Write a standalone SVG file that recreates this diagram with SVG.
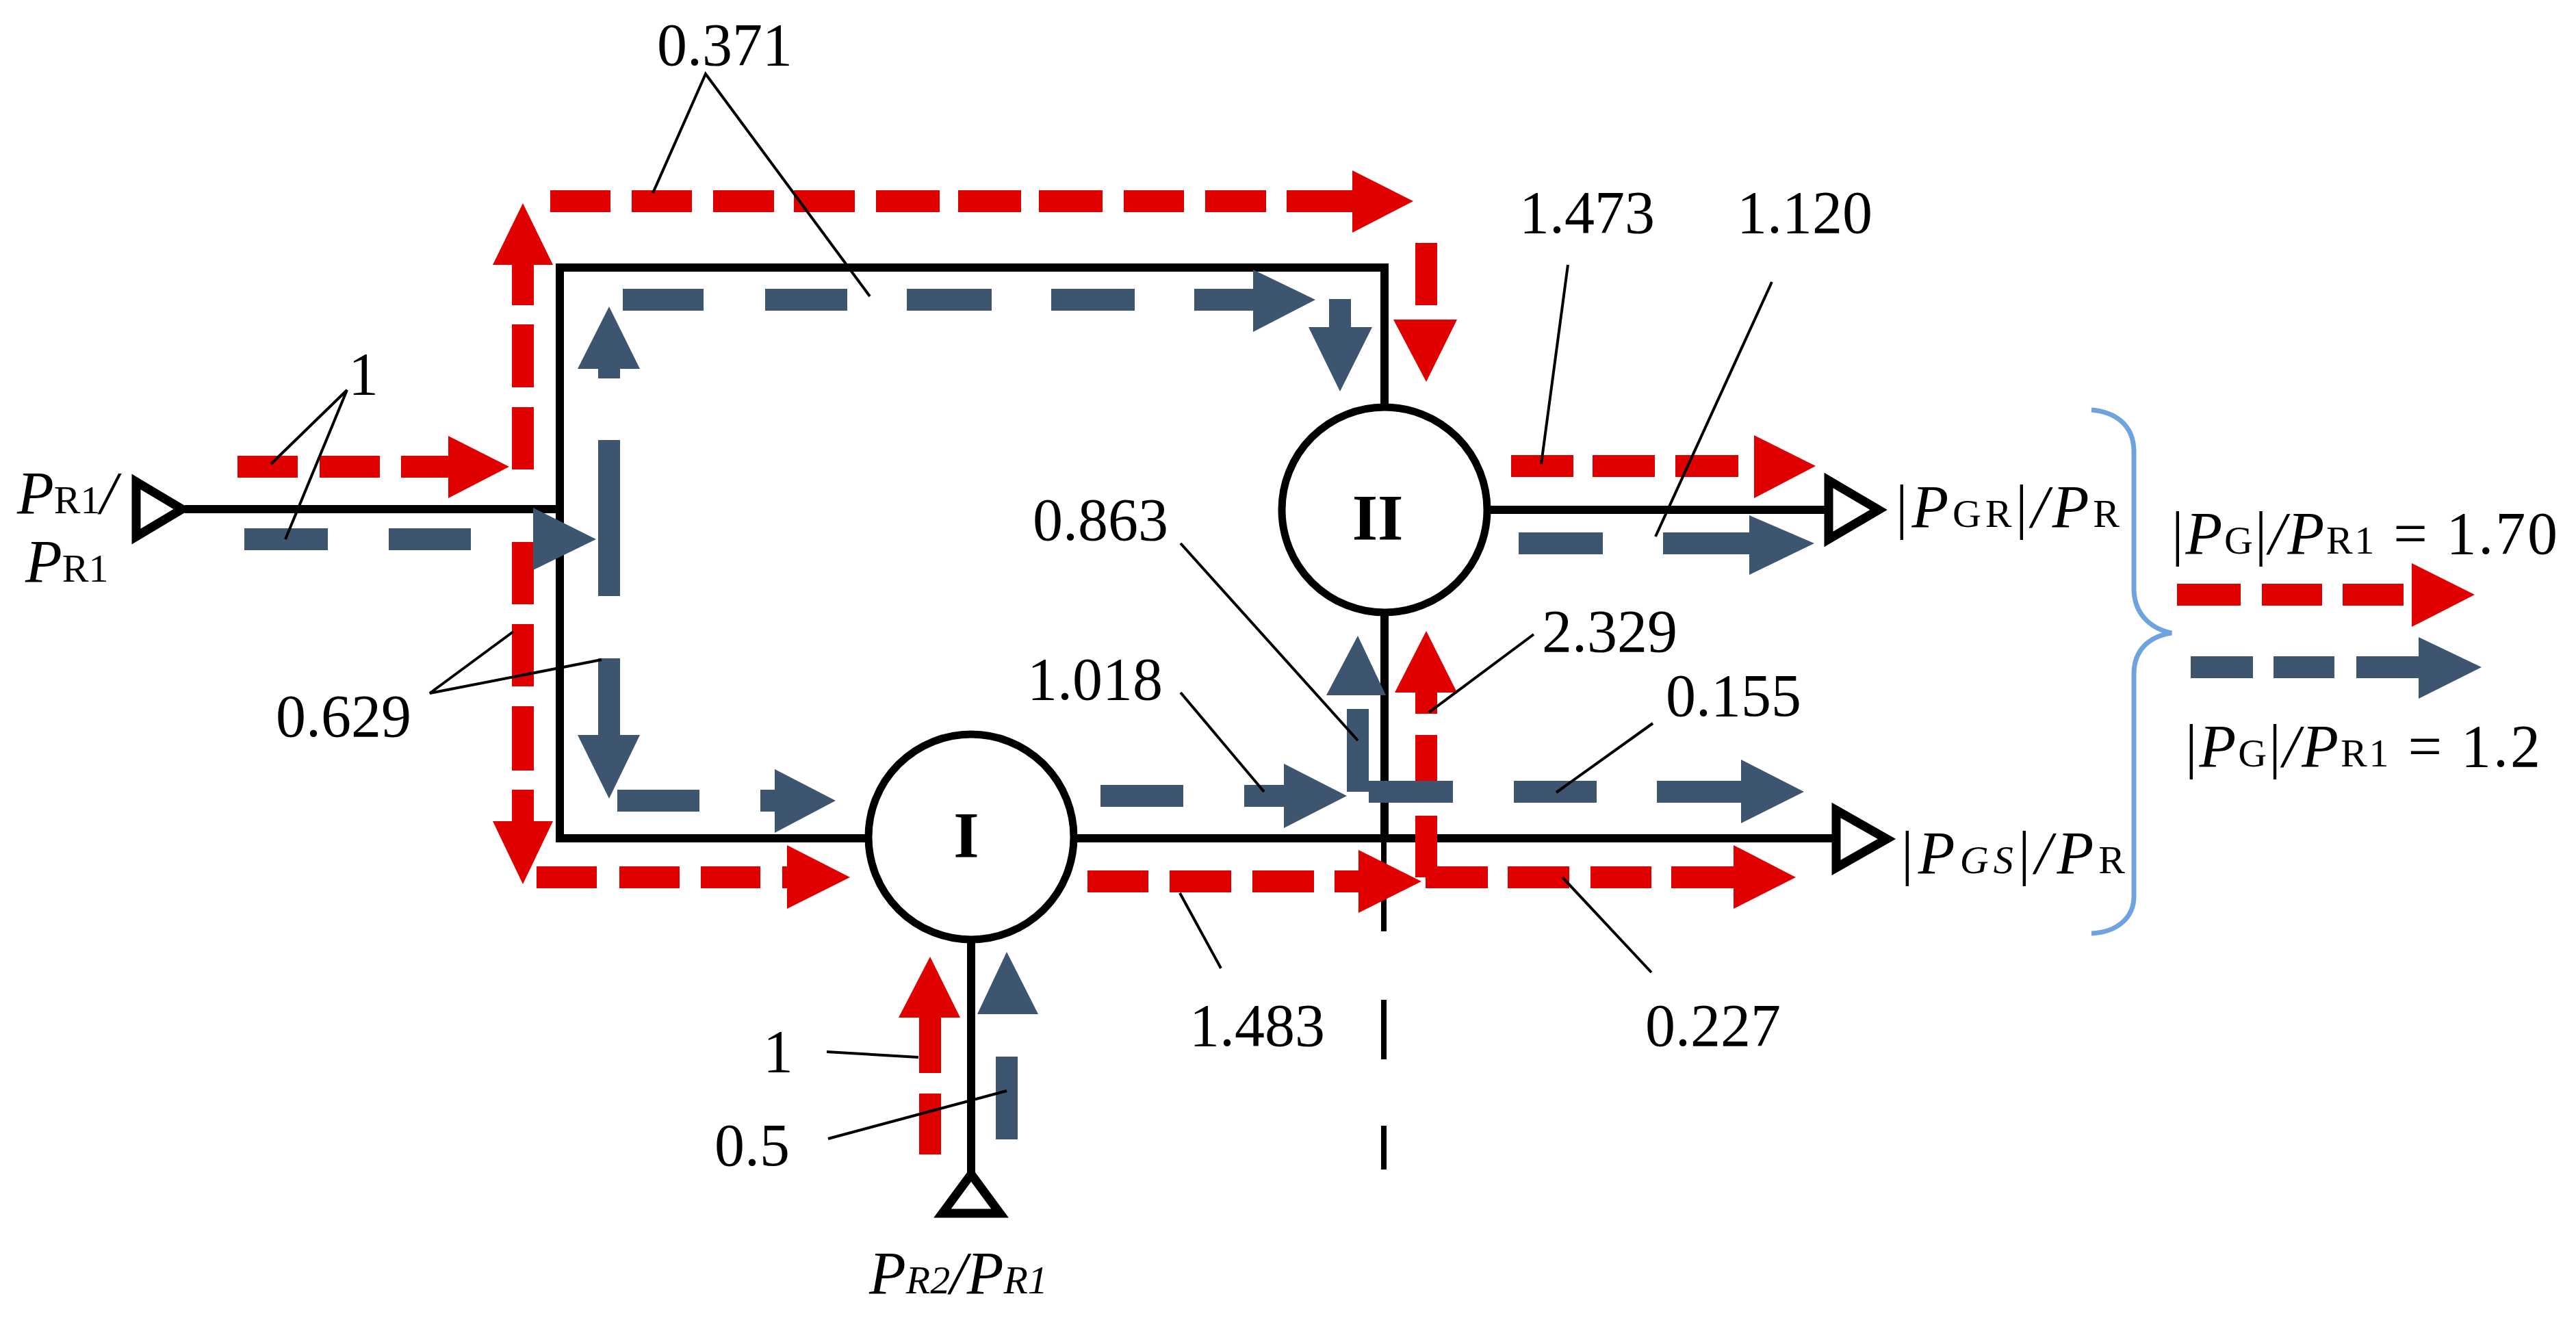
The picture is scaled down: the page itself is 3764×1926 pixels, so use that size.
<svg xmlns="http://www.w3.org/2000/svg" width="3764" height="1926" viewBox="0 0 3764 1926">
<style>
text{font-family:"Liberation Serif","Times New Roman",serif;font-size:88px;fill:#000}
.p{font-style:italic}
.s{font-size:58px}
.ss{font-size:58px;font-style:italic}
.nl{font-weight:bold;font-size:96px;text-anchor:middle}
.w{fill:none;stroke:#000;stroke-width:12}
.t{fill:#fff;stroke:#000;stroke-width:13;stroke-linejoin:miter}
.c{fill:#fff;stroke:#000;stroke-width:11}
.r{fill:none;stroke:#e00000;stroke-width:32}
.b{fill:none;stroke:#3d556f;stroke-width:32}
.rh{fill:#e00000}
.bh{fill:#3d556f}
.l{fill:none;stroke:#000;stroke-width:4}
.br{fill:none;stroke:#6fa3de;stroke-width:7}
</style>
<rect width="3764" height="1926" fill="#fff"/>
<g id="connectors">
<path class="w" d="M270 744H818M818 744V391H2023V600M818 744V1225H1270M2023 895V1225M1570 1225H2690M2175 745H2672M1419 1375V1720"/>
<path class="w" style="stroke-width:8" d="M2022 1225V1361M2022 1461V1548M2022 1645V1709"/>
<g id="red-flow">
<path class="r" d="M347 682H435M467 682H555M586 682H660M764 686V595M764 566V474M764 446V385M764 792V883M764 912V1003M764 1032V1126M764 1154V1205M804 294H892M923 294H1011M1042 294H1131M1160 294H1249M1280 294H1373M1400 294H1492M1518 294H1611M1642 294H1730M1761 294H1850M1880 294H1980M2084 355V446M784 1282H872M905 1282H993M1024 1282H1111M1143 1282H1155M1589 1288H1678M1709 1288H1799M1830 1288H1920M1950 1288H1990M2084 1012V1043M2084 1074V1161M2084 1192V1282M2083 1282H2174M2203 1282H2293M2324 1282H2413M2442 1282H2538M2208 681H2299M2327 681H2418M2448 681H2540M1359 1568V1480M1359 1687V1598"/>
<polygon class="rh" points="655,637 744,682 655,728"/>
<polygon class="rh" points="720,387 764,297 808,387"/>
<polygon class="rh" points="720,1200 808,1200 764,1292"/>
<polygon class="rh" points="1976,249 2065,294 1976,340"/>
<polygon class="rh" points="2036,467 2129,467 2084,558"/>
<polygon class="rh" points="2038,1012 2084,922 2129,1012"/>
<polygon class="rh" points="1150,1235 1242,1282 1150,1328"/>
<polygon class="rh" points="1985,1242 2077,1288 1985,1334"/>
<polygon class="rh" points="2533,1235 2624,1282 2533,1328"/>
<polygon class="rh" points="2563,636 2653,681 2563,728"/>
<polygon class="rh" points="1313,1487 1359,1398 1403,1487"/>
</g>
<g id="blue-flow">
<path class="b" d="M357 788H479M568 788H688M890 643V871M890 962V1080M890 553V535M910 438H1028M1118 438H1238M1325 438H1449M1536 438H1658M1745 438H1835M1958 437V482M902 1170H1022M1111 1170H1136M2219 794H2342M2430 794H2560M1608 1163H1729M1818 1163H1880M2000 1157H2123M2212 1157H2333M2421 1157H2548M1984 1036V1157M1471 1544V1665"/>
<polygon class="bh" points="779,742 871,788 779,833"/>
<polygon class="bh" points="844,539 890,448 935,539"/>
<polygon class="bh" points="844,1074 935,1074 890,1167"/>
<polygon class="bh" points="1831,394 1922,438 1831,485"/>
<polygon class="bh" points="1912,478 2005,478 1958,572"/>
<polygon class="bh" points="1132,1124 1221,1170 1132,1217"/>
<polygon class="bh" points="1876,1116 1968,1163 1876,1210"/>
<polygon class="bh" points="2544,1110 2636,1157 2544,1203"/>
<polygon class="bh" points="1938,1016 1984,929 2025,1016"/>
<polygon class="bh" points="2556,753 2651,794 2556,840"/>
<polygon class="bh" points="1428,1482 1471,1391 1517,1482"/>
</g>
<g id="legend-arrows">
<path class="r" d="M3181 869H3274M3305 869H3393M3423 869H3512"/>
<polygon class="rh" points="3524,823 3616,869 3524,916"/>
<path class="b" d="M3201 975H3292M3322 975H3411M3443 975H3536"/>
<polygon class="bh" points="3534,931 3626,975 3534,1021"/>
</g>
<g id="leaders">
<path class="l" d="M954 282L1031 108L1271 433M396 678L507 570L417 788M750 923L628 1013L879 964M2291 387L2252 678M2589 412L2419 784M1725 794L1984 1082M1725 1012L1847 1157M2241 927L2088 1041M2415 1057L2274 1158M1724 1305L1784 1415M2283 1282L2413 1421M1208 1537L1342 1545M1210 1664L1471 1594"/>
</g>
<path id="brace" class="br" d="M3056 599C3090 602 3118 620 3118 660V860C3118 895 3140 918 3173 925C3140 930 3118 950 3118 985V1310C3118 1340 3095 1362 3056 1364"/>
</g>
<g id="node-I"><circle class="c" cx="1419" cy="1223" r="150"/><text class="nl" x="1412" y="1253">I</text></g>
<g id="node-II"><circle class="c" cx="2023" cy="745" r="150"/><text class="nl" x="2013" y="789">II</text></g>
<g id="port-R1"><polygon class="t" points="199,704 266,744 199,784"/></g>
<g id="port-R2"><polygon class="t" points="1419,1716 1377,1773 1461,1773"/></g>
<g id="port-GR"><polygon class="t" points="2672,702 2745,745 2672,788"/></g>
<g id="port-GS"><polygon class="t" points="2683,1184 2757,1226 2683,1268"/></g>
<g id="labels">
<text x="960" y="95">0.371</text>
<text x="509" y="576">1</text>
<text x="403" y="1076">0.629</text>
<text x="2220" y="340">1.473</text>
<text x="2538" y="340">1.120</text>
<text x="1509" y="789">0.863</text>
<text x="1501" y="1022">1.018</text>
<text x="2253" y="952">2.329</text>
<text x="2434" y="1046">0.155</text>
<text x="1738" y="1528">1.483</text>
<text x="2404" y="1528">0.227</text>
<text x="1115" y="1566">1</text>
<text x="1044" y="1703">0.5</text>
<text x="25" y="750"><tspan class="p">P</tspan><tspan class="s">R1</tspan><tspan class="p">/</tspan></text>
<text x="37" y="850"><tspan class="p">P</tspan><tspan class="s">R1</tspan></text>
<text x="1270" y="1890"><tspan class="p">P</tspan><tspan class="ss">R2</tspan><tspan class="p">/P</tspan><tspan class="ss">R1</tspan></text>
<text x="2770" y="770" textLength="327">|<tspan class="p">P</tspan><tspan class="s">GR</tspan>|<tspan class="p">/P</tspan><tspan class="s">R</tspan></text>
<text x="2778" y="1276" textLength="327">|<tspan class="p">P</tspan><tspan class="ss">GS</tspan>|<tspan class="p">/P</tspan><tspan class="s">R</tspan></text>
<text x="3173" y="809" textLength="564">|<tspan class="p">P</tspan><tspan class="s">G</tspan>|<tspan class="p">/P</tspan><tspan class="s">R1</tspan> = 1.70</text>
<text x="3193" y="1120" textLength="519">|<tspan class="p">P</tspan><tspan class="s">G</tspan>|<tspan class="p">/P</tspan><tspan class="s">R1</tspan> = 1.2</text>
</g>
</svg>
